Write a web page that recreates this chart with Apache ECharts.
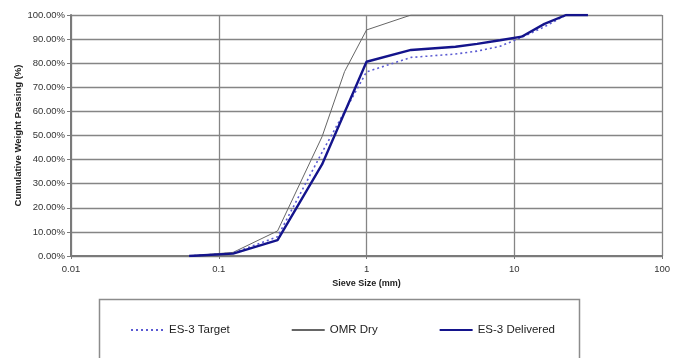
<!DOCTYPE html>
<html>
<head>
<meta charset="utf-8">
<style>
  html, body { margin: 0; padding: 0; background: #ffffff; }
  #chart { width: 673px; height: 358px; }
</style>
<script src="https://cdn.jsdelivr.net/npm/echarts@6/dist/echarts.min.js"></script>
</head>
<body>
<div id="chart"></div>
<script>
// Sieve sizes (mm) and cumulative percent passing for each gradation
const sieveSizes = [0.063, 0.125, 0.25, 0.5, 1, 2, 4, 5.6, 8, 11.2, 16, 22.4, 31.5];
const targetPassing = [0, 1.2, 8.0, 43.0, 76.4, 82.4, 83.8, 85.0, 87.0, 90.7, 95.1, 100, 100];
const deliveredPassing = [0, 1.0, 6.6, 38.0, 80.6, 85.5, 86.8, 88.0, 89.5, 91.0, 96.3, 100, 100];

const omrSizes = [0.063, 0.125, 0.25, 0.5, 0.71, 1, 2, 4, 8, 16, 31.5];
const omrPassing = [0, 1.5, 10.4, 49.5, 76.5, 93.8, 100, 100, 100, 100, 100];

const xTickLabels = ['0.01', '0.1', '1', '10', '100'];
const seriesNames = ['ES-3 Target', 'OMR Dry', 'ES-3 Delivered'];

const pairs = (xs, ys) => xs.map((x, i) => [x, ys[i]]);

const chart = echarts.init(document.getElementById('chart'), null, { renderer: 'canvas' });

const font = 'Liberation Sans, Arial, sans-serif';

chart.setOption({
  animation: false,
  backgroundColor: '#ffffff',
  grid: { left: 71, right: 6, top: 15, bottom: 102, containLabel: false },
  xAxis: {
    type: 'log',
    logBase: 10,
    min: 0.01,
    max: 100,
    name: 'Sieve Size (mm)',
    nameLocation: 'middle',
    nameGap: 22,
    nameTextStyle: { fontFamily: font, fontSize: 9, fontWeight: 'bold', color: '#222' },
    axisLine: { show: true, lineStyle: { color: '#7a7a7a', width: 2 } },
    axisTick: { show: true, length: 3, lineStyle: { color: '#7a7a7a' } },
    minorTick: { show: false },
    axisLabel: {
      fontFamily: font, fontSize: 9.5, color: '#333', margin: 8,
      formatter: v => xTickLabels[Math.round(Math.log10(v)) + 2]
    },
    splitLine: { show: true, lineStyle: { color: '#858585', width: 1.3 } }
  },
  yAxis: {
    type: 'value',
    min: 0,
    max: 100,
    interval: 10,
    name: 'Cumulative Weight Passing (%)',
    nameLocation: 'middle',
    nameGap: 48,
    nameMoveOverlap: false,
    nameRotate: 90,
    nameTextStyle: { fontFamily: font, fontSize: 9.5, fontWeight: 'bold', color: '#222' },
    axisLine: { show: true, lineStyle: { color: '#7a7a7a', width: 2 } },
    axisTick: { show: true, length: 4, lineStyle: { color: '#7a7a7a' } },
    axisLabel: {
      fontFamily: font, fontSize: 9.5, color: '#333', margin: 6,
      formatter: v => v.toFixed(2) + '%'
    },
    splitLine: { show: true, lineStyle: { color: '#858585', width: 1.3 } }
  },
  legend: {
    data: seriesNames,
    left: 125,
    top: 319,
    itemWidth: 33,
    itemHeight: 10,
    itemGap: 61,
    itemStyle: { opacity: 0 },
    textStyle: { fontFamily: font, fontSize: 11.5, color: '#222' }
  },
  graphic: [{
    type: 'rect',
    shape: { x: 99.5, y: 299.5, width: 480, height: 80 },
    style: { fill: 'none', stroke: '#8c8c8c', lineWidth: 1.5 },
    silent: true,
    z: -1
  }],
  series: [
    {
      name: seriesNames[0],
      type: 'line',
      data: pairs(sieveSizes, targetPassing),
      symbol: 'none',
      lineStyle: { color: '#5a5ad2', width: 1.6, type: [2, 3] },
      itemStyle: { color: '#5a5ad2' },
      z: 3
    },
    {
      name: seriesNames[1],
      type: 'line',
      data: pairs(omrSizes, omrPassing),
      symbol: 'none',
      lineStyle: { color: '#666666', width: 1 },
      itemStyle: { color: '#666666' },
      z: 2
    },
    {
      name: seriesNames[2],
      type: 'line',
      data: pairs(sieveSizes, deliveredPassing),
      symbol: 'none',
      lineStyle: { color: '#14148c', width: 2.4 },
      itemStyle: { color: '#14148c' },
      z: 4
    }
  ]
});
</script>
</body>
</html>
